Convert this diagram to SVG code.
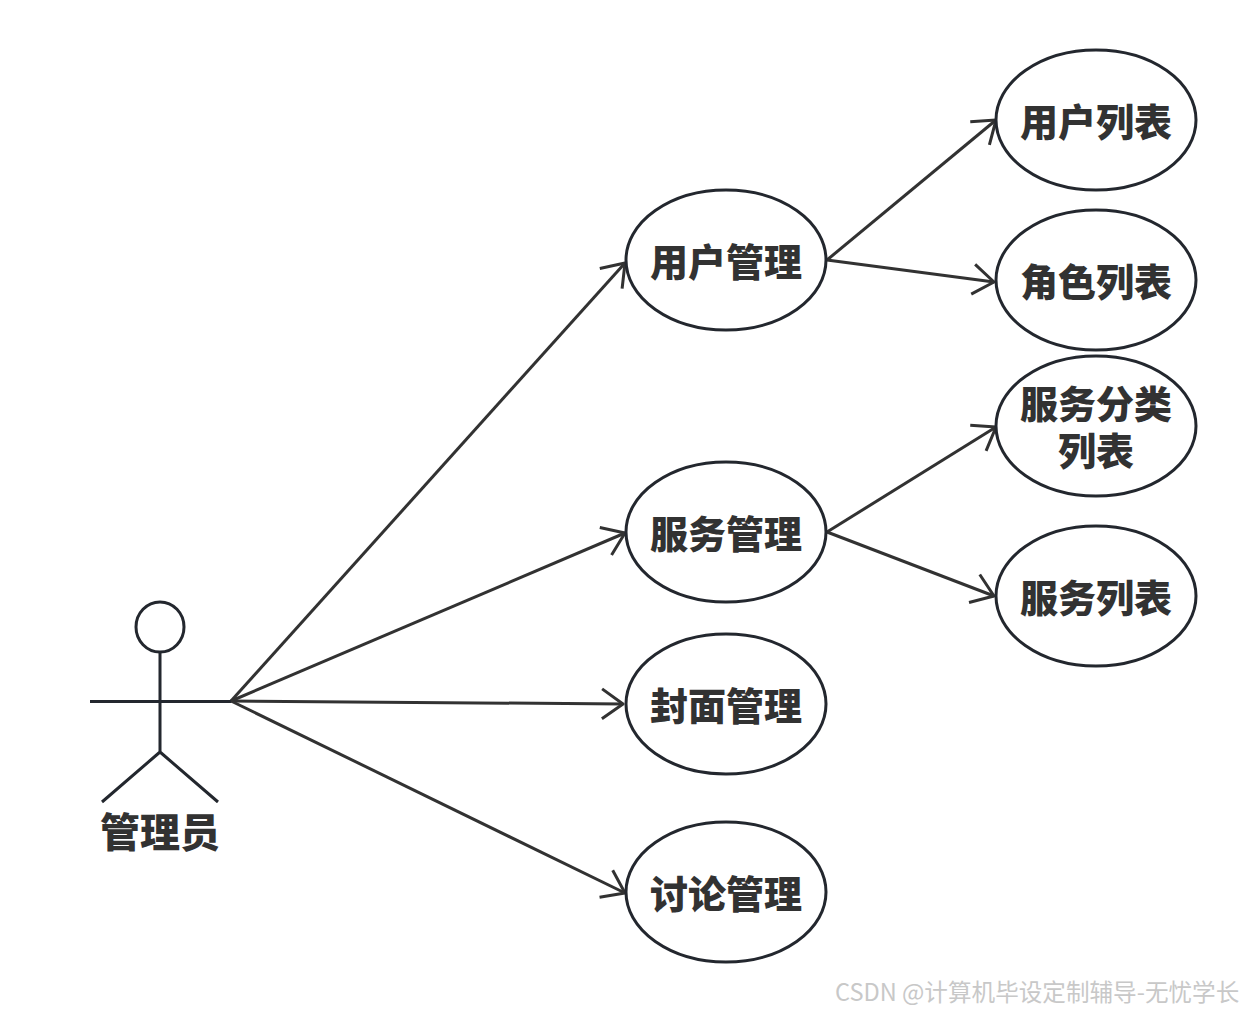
<svg xmlns="http://www.w3.org/2000/svg" width="1245" height="1012" viewBox="0 0 1245 1012">
<style>
.n ellipse{fill:#fff;stroke:#23272e;stroke-width:3}
.t{font-family:"Noto Sans CJK SC","Liberation Sans",sans-serif;font-weight:900;font-size:38px;fill:#323232;text-anchor:middle}
.c path{fill:none;stroke:#323232;stroke-width:3}
.a path{fill:none;stroke:#23272e;stroke-width:3}
.w{font-family:"Noto Sans CJK SC","Liberation Sans",sans-serif;font-size:23.6px;fill:#c8c8c8}
</style>
<defs><marker id="m" markerUnits="userSpaceOnUse" markerWidth="30" markerHeight="40" refX="26" refY="20" orient="auto"><path d="M5 5L26 20L5 35" fill="none" stroke="#323232" stroke-width="3" stroke-linejoin="round"/></marker></defs>
<rect width="1245" height="1012" fill="#fff"/>
<g class="c" id="connectors">
<path d="M231 701L625 263" marker-end="url(#m)"/>
<path d="M231 701L625 533" marker-end="url(#m)"/>
<path d="M231 701L623 704" marker-end="url(#m)"/>
<path d="M231 701L625 893" marker-end="url(#m)"/>
<path d="M827 260L996 120" marker-end="url(#m)"/>
<path d="M827 260L994 282" marker-end="url(#m)"/>
<path d="M827 532L996 427" marker-end="url(#m)"/>
<path d="M827 532L994 596" marker-end="url(#m)"/>
</g>
<g class="a n" id="actor">
<ellipse cx="160" cy="627" rx="24" ry="25"/>
<path d="M160 652V752M90 701.500H231M160 752L102 802M160 752L218 802"/>
<text class="t" x="160" y="847" style="font-size:40px">管理员</text>
</g>
<g class="n" id="n1"><ellipse cx="726" cy="260" rx="100" ry="70"/><text class="t" x="726" y="276">用户管理</text></g>
<g class="n" id="n2"><ellipse cx="726" cy="532" rx="100" ry="70"/><text class="t" x="726" y="548">服务管理</text></g>
<g class="n" id="n3"><ellipse cx="726" cy="704" rx="100" ry="70"/><text class="t" x="726" y="720">封面管理</text></g>
<g class="n" id="n4"><ellipse cx="726" cy="892" rx="100" ry="70"/><text class="t" x="726" y="908">讨论管理</text></g>
<g class="n" id="n5"><ellipse cx="1096" cy="120" rx="100" ry="70"/><text class="t" x="1096" y="136">用户列表</text></g>
<g class="n" id="n6"><ellipse cx="1096" cy="280" rx="100" ry="70"/><text class="t" x="1096" y="296">角色列表</text></g>
<g class="n" id="n7"><ellipse cx="1096" cy="426" rx="100" ry="70"/><text class="t"><tspan x="1096" y="418">服务分类</tspan><tspan x="1096" y="465">列表</tspan></text></g>
<g class="n" id="n8"><ellipse cx="1096" cy="596" rx="100" ry="70"/><text class="t" x="1096" y="612">服务列表</text></g>
<text class="w" x="835" y="1001">CSDN @计算机毕设定制辅导-无忧学长</text>
</svg>
